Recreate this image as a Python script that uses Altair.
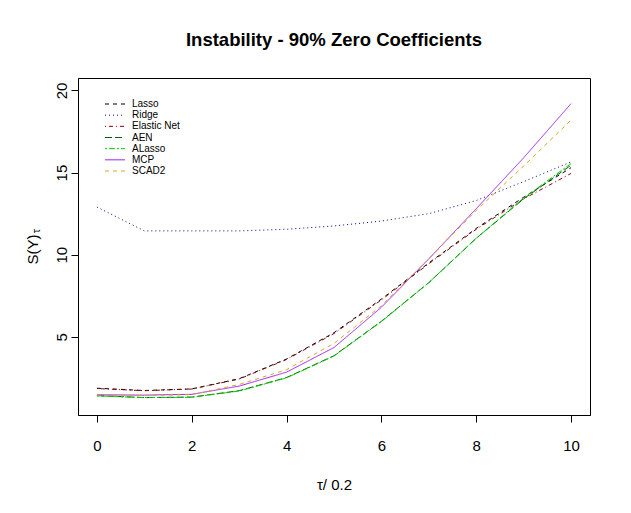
import altair as alt
import pandas as pd

tau = [0, 1, 2, 3, 4, 5, 6, 7, 8, 9, 10]
methods = ["Lasso", "Ridge", "Elastic Net", "AEN", "ALasso", "MCP", "SCAD2"]
lasso  = [1.87, 1.73, 1.83, 2.45, 3.65, 5.25, 7.30, 9.50, 11.60, 13.50, 15.30]
ridge  = [12.90, 11.45, 11.45, 11.45, 11.55, 11.75, 12.05, 12.50, 13.30, 14.45, 15.65]
enet   = [1.85, 1.72, 1.82, 2.43, 3.62, 5.20, 7.25, 9.45, 11.55, 13.40, 14.95]
aen    = [1.42, 1.30, 1.33, 1.72, 2.52, 3.85, 5.95, 8.30, 11.00, 13.40, 15.45]
alasso = [1.40, 1.30, 1.32, 1.70, 2.50, 3.83, 5.93, 8.30, 11.00, 13.45, 15.55]
mcp    = [1.47, 1.45, 1.50, 2.00, 2.85, 4.35, 6.80, 9.75, 12.80, 15.90, 19.20]
scad2  = [1.45, 1.43, 1.48, 2.10, 3.00, 4.60, 6.90, 9.75, 12.70, 15.40, 18.20]
series = [lasso, ridge, enet, aen, alasso, mcp, scad2]

colors = ["#000000", "#00008B", "#8B0000", "#006400", "#00CD00", "#A020F0", "#DAA520"]
dashes = [[4, 4], [1, 3], [1, 3, 4, 3], [7, 3], [2, 2, 6, 2], [1, 0], [4, 4]]

rows = []
for m, vals in zip(methods, series):
    for t, v in zip(tau, vals):
        rows.append({"tau": t, "S": v, "method": m})
df = pd.DataFrame(rows)
leg_df = pd.DataFrame({"method": methods})

FONT = "Liberation Sans"

color_enc = alt.Color("method:N", scale=alt.Scale(domain=methods, range=colors), legend=None)
dash_enc = alt.StrokeDash("method:N", scale=alt.Scale(domain=methods, range=dashes), legend=None)

xscale = alt.Scale(domain=[-0.4, 10.4], nice=False, zero=False)
yscale = alt.Scale(domain=[0.24, 20.76], nice=False, zero=False)

lines = alt.Chart(df).mark_line(strokeWidth=1, clip=True).encode(
    x=alt.X("tau:Q", scale=xscale,
            axis=alt.Axis(values=[0, 2, 4, 6, 8, 10], title="τ/ 0.2",
                          labelBaseline="top", labelPadding=16,
                          titleY=74, titleBaseline="alphabetic")),
    y=alt.Y("S:Q", scale=yscale,
            axis=alt.Axis(values=[5, 10, 15, 20], title="S(Y)",
                          labelAngle=-90, labelAlign="center",
                          labelBaseline="alphabetic", labelPadding=5,
                          titleX=-41, titleY=171, titleAngle=-90,
                          titleAlign="center", titleBaseline="alphabetic")),
    color=color_enc,
    strokeDash=dash_enc,
    order="tau:Q",
)

leg_y = alt.Y("method:N", scale=alt.Scale(type="point", domain=methods, range=[26, 93], padding=0),
              axis=None)

leg_lines = alt.Chart(leg_df).mark_rule(strokeWidth=1).encode(
    x=alt.value(27), x2=alt.value(47), y=leg_y, color=color_enc, strokeDash=dash_enc,
)
leg_text = alt.Chart(leg_df).mark_text(
    font=FONT, fontSize=10, align="left", baseline="middle", color="black", dx=0
).encode(x=alt.value(54), y=leg_y, text="method:N")

subscript = alt.Chart(pd.DataFrame({"t": ["τ"]})).mark_text(
    font=FONT, fontSize=11, angle=270, align="center", baseline="alphabetic", color="black"
).encode(x=alt.value(-38), y=alt.value(153), text="t:N")

chart = alt.layer(lines, leg_lines, leg_text, subscript).resolve_scale(
    y="independent"
).properties(
    width=512, height=337,
    title=alt.TitleParams("Instability - 90% Zero Coefficients", font=FONT, fontSize=18.5,
                          fontWeight="bold", anchor="middle", frame="group",
                          baseline="alphabetic", offset=14, color="black"),
    padding={"left": 70, "top": 70, "right": 33, "bottom": 90},
    autosize=alt.AutoSizeParams(type="none"),
).configure_view(
    stroke="black", strokeWidth=1
).configure_axis(
    grid=False, domain=True, domainColor="black", tickColor="black", tickSize=7, tickWidth=1,
    labelFont=FONT, labelFontSize=15, labelColor="black",
    titleFont=FONT, titleFontSize=15, titleFontWeight="normal", titleColor="black",
)

chart.save("out.html", embed_options={"renderer": "svg", "actions": False})
